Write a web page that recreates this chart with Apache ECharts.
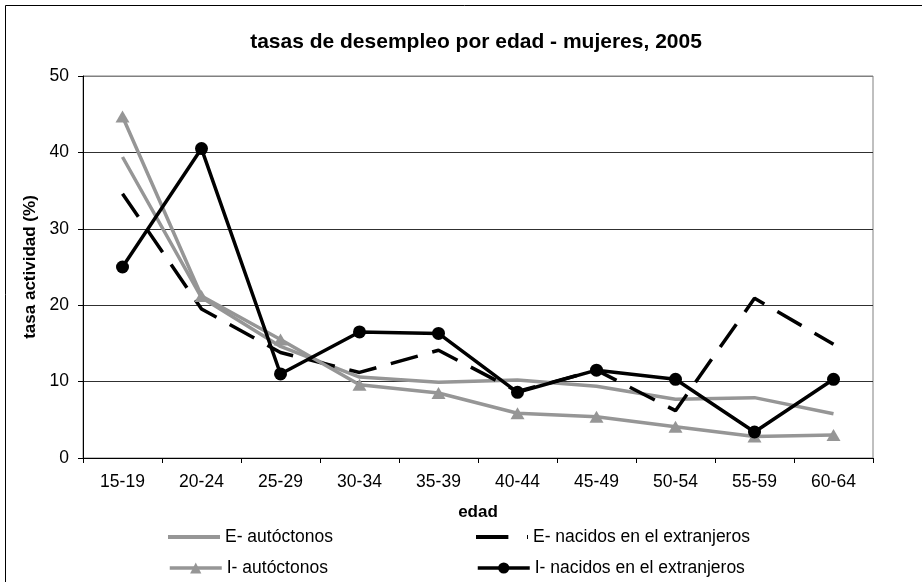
<!DOCTYPE html>
<html>
<head>
<meta charset="utf-8">
<script src="https://cdn.jsdelivr.net/npm/echarts@6/dist/echarts.min.js"></script>
<style>
html,body{margin:0;padding:0;background:#fff;}
#chart{width:922px;height:582px;}
</style>
</head>
<body>
<div id="chart"></div>
<script>
const categories = ['15-19','20-24','25-29','30-34','35-39','40-44','45-49','50-54','55-59','60-64'];
const eAutoctonos = [39.4, 21.0, 14.6, 10.6, 9.9, 10.2, 9.4, 7.7, 7.9, 5.8];
const eNacidos   = [34.6, 19.5, 13.8, 11.2, 14.1, 8.7, 11.5, 6.2, 20.9, 14.9];
const iAutoctonos = [44.7, 21.2, 15.5, 9.6, 8.5, 5.85, 5.4, 4.1, 2.8, 3.0];
const iNacidos   = [25.0, 40.5, 11.0, 16.5, 16.3, 8.6, 11.5, 10.3, 3.4, 10.3];
const yTicks = [0, 10, 20, 30, 40, 50];

const seriesNames = ['E- autóctonos','E- nacidos en el extranjeros','I- autóctonos','I- nacidos en el extranjeros'];
const GRAY = '#969696';
const FONT = 'Liberation Sans, Arial, sans-serif';

const chart = echarts.init(document.getElementById('chart'), null, {renderer:'canvas'});

function legendAt(item, left, top, h, extra){
  return Object.assign({
    data:[item], left:left, top:top, padding:0, itemWidth:52, itemHeight:h, itemGap:0,
    symbolKeepAspect:false,
    textStyle:{fontFamily:FONT, fontSize:17.5, color:'#000'}
  }, extra || {});
}

const option = {
  backgroundColor:'#fff',
  animation:false,
  title:{
    text:'tasas de desempleo por edad - mujeres, 2005',
    left:471, top:27, textAlign:'center',
    textStyle:{fontFamily:FONT, fontSize:21, fontWeight:'bold', color:'#000'}
  },
  graphic:[{
    type:'rect', shape:{x:5.5, y:5.5, width:1200, height:1200},
    style:{fill:'none', stroke:'#000', lineWidth:1}, silent:true, z:-1
  }],
  legend:[
    legendAt({name:seriesNames[0], icon:'rect', itemStyle:{color:GRAY}}, 168, 528, 4),
    legendAt({name:seriesNames[1], icon:'path://M0,0H33V4H0Z M52,0H53V4H52Z', itemStyle:{color:'#000'}}, 476, 528, 4),
    legendAt({name:seriesNames[2]}, 168, 559, 14, {lineStyle:{width:3.5}, itemStyle:{}}),
    legendAt({name:seriesNames[3]}, 476, 559, 14, {lineStyle:{width:3.5}})
  ],
  grid:{left:83, right:49, top:76, bottom:124, show:true, borderColor:'#808080', borderWidth:1},
  xAxis:{
    type:'category', data:categories, boundaryGap:true,
    name:'edad', nameLocation:'middle', nameGap:46,
    nameTextStyle:{fontFamily:FONT, fontSize:17, fontWeight:'bold', color:'#000'},
    axisLine:{lineStyle:{color:'#000', width:1}},
    axisTick:{show:true, interval:0, length:5, lineStyle:{color:'#000'}},
    axisLabel:{interval:0, margin:15, fontFamily:FONT, fontSize:17.5, color:'#000'},
    splitLine:{show:false}
  },
  yAxis:{
    type:'value', min:yTicks[0], max:yTicks[yTicks.length-1], interval:10,
    name:'tasa actividad (%)', nameLocation:'middle', nameGap:42, nameRotate:90,
    nameTextStyle:{fontFamily:FONT, fontSize:17, fontWeight:'bold', color:'#000'},
    axisLine:{show:true, lineStyle:{color:'#000', width:1}},
    axisTick:{show:true, length:5, lineStyle:{color:'#000'}},
    axisLabel:{margin:14, fontFamily:FONT, fontSize:17.5, color:'#000'},
    splitLine:{show:true, lineStyle:{color:['#000','#303030','#303030','#303030','#303030','#808080'], width:1}}
  },
  series:[
    {name:seriesNames[0], type:'line', data:eAutoctonos, symbol:'none', z:2,
     lineStyle:{color:GRAY, width:3.5}, itemStyle:{color:GRAY}},
    {name:seriesNames[1], type:'line', data:eNacidos, symbol:'none', z:3,
     lineStyle:{color:'#000', width:3.5, type:[28,15]}, itemStyle:{color:'#000'}},
    {name:seriesNames[2], type:'line', data:iAutoctonos, symbol:'triangle', symbolSize:[14,12], z:4,
     lineStyle:{color:GRAY, width:3.5}, itemStyle:{color:GRAY}},
    {name:seriesNames[3], type:'line', data:iNacidos, symbol:'circle', symbolSize:13, z:5,
     lineStyle:{color:'#000', width:3.5}, itemStyle:{color:'#000'}}
  ]
};
chart.setOption(option);
</script>
</body>
</html>
